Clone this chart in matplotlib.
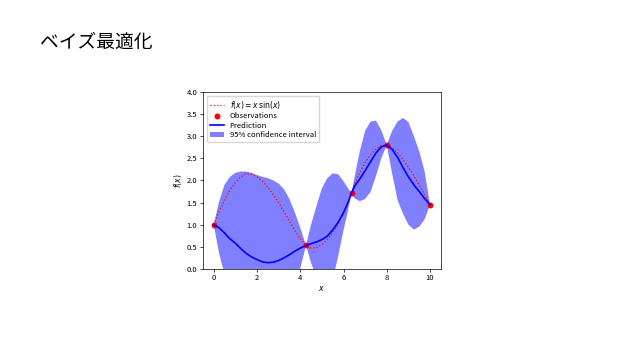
import numpy as np
import matplotlib.pyplot as plt

plt.rcParams['font.family'] = ['Noto Sans CJK JP', 'DejaVu Sans']

# grid
x = [0, 0.25, 0.5, 0.75, 1.0, 1.25, 1.5, 1.75, 2.0, 2.25, 2.5, 2.75, 3.0, 3.25,
     3.5, 3.75, 4.0, 4.27, 4.5, 4.75, 5.0, 5.25, 5.5, 5.75, 6.0, 6.2, 6.37, 6.5,
     6.75, 7.0, 7.25, 7.5, 7.75, 8.0, 8.25, 8.5, 8.75, 9.0, 9.25, 9.5, 9.75, 10.0]

# true function (red dotted)
f_true = [1.00, 1.30, 1.55, 1.78, 1.95, 2.08, 2.15, 2.14, 2.08, 1.98, 1.85, 1.68,
          1.50, 1.29, 1.08, 0.87, 0.68, 0.53, 0.47, 0.48, 0.55, 0.66, 0.82, 1.02,
          1.26, 1.50, 1.71, 1.90, 2.17, 2.40, 2.58, 2.71, 2.79, 2.80, 2.74, 2.63,
          2.47, 2.30, 2.10, 1.90, 1.68, 1.45]

# GP prediction (blue)
y_pred = [1.00, 0.93, 0.81, 0.68, 0.58, 0.46, 0.35, 0.27, 0.21, 0.16, 0.14, 0.15,
          0.19, 0.25, 0.32, 0.40, 0.47, 0.53, 0.57, 0.61, 0.66, 0.74, 0.88, 1.05,
          1.27, 1.49, 1.71, 1.86, 2.03, 2.22, 2.42, 2.62, 2.76, 2.80, 2.70, 2.52,
          2.29, 2.08, 1.90, 1.75, 1.59, 1.45]

# 95% interval
upper = [1.00, 1.52, 1.90, 2.08, 2.17, 2.20, 2.20, 2.17, 2.12, 2.08, 2.05, 2.00,
         1.93, 1.80, 1.58, 1.28, 0.93, 0.53, 1.00, 1.42, 1.82, 2.05, 2.16, 2.14,
         1.98, 1.83, 1.71, 2.05, 2.65, 3.12, 3.33, 3.35, 3.13, 2.80, 3.12, 3.33,
         3.41, 3.32, 3.00, 2.66, 2.20, 1.45]
lower = [1.00, 0.35, -0.12, -0.60, -1.00, -1.30, -1.50, -1.62, -1.70, -1.75, -1.77, -1.70,
         -1.55, -1.30, -0.94, -0.48, 0.01, 0.53, 0.14, -0.20, -0.50, -0.57, -0.25, 0.28,
         0.87, 1.30, 1.71, 1.60, 1.53, 1.58, 1.74, 2.10, 2.50, 2.80, 2.15, 1.55,
         1.25, 1.00, 0.89, 0.95, 1.12, 1.45]

# observations
x_obs = [0, 4.27, 6.37, 8.0, 10.0]
y_obs = [1.00, 0.53, 1.71, 2.80, 1.45]

fig = plt.figure(figsize=(6.38, 3.59), dpi=100)
fig.text(0.063, 0.883, 'ベイズ最適化', fontsize=13.5, ha='left', va='center')

ax = fig.add_axes([0.318, 0.251, 0.373, 0.493])
ax.plot(x, f_true, 'r:', linewidth=0.9, label=r'$f(x) = x\,\sin(x)$')
ax.plot(x_obs, y_obs, 'r.', markersize=6.5, label='Observations')
ax.plot(x, y_pred, 'b-', linewidth=1.2, label='Prediction')
ax.fill(np.concatenate([x, x[::-1]]),
        np.concatenate([upper, lower[::-1]]),
        alpha=.5, fc='b', ec='None', label='95% confidence interval')

ax.set_xlim(-0.5, 10.5)
ax.set_ylim(0, 4)
ax.set_xticks([0, 2, 4, 6, 8, 10])
ax.set_yticks(np.arange(0, 4.01, 0.5))
ax.set_xlabel('$x$', fontsize=5.5, labelpad=1)
ax.set_ylabel('$f(x)$', fontsize=5.5, labelpad=2)
ax.tick_params(labelsize=5.5, length=2, width=0.5, pad=2)
for s in ax.spines.values():
    s.set_linewidth(0.5)
ax.legend(loc='upper left', fontsize=5.5, handlelength=1.8, borderpad=0.4,
          labelspacing=0.2, framealpha=0.8)

fig.savefig('out.png', dpi=100)
